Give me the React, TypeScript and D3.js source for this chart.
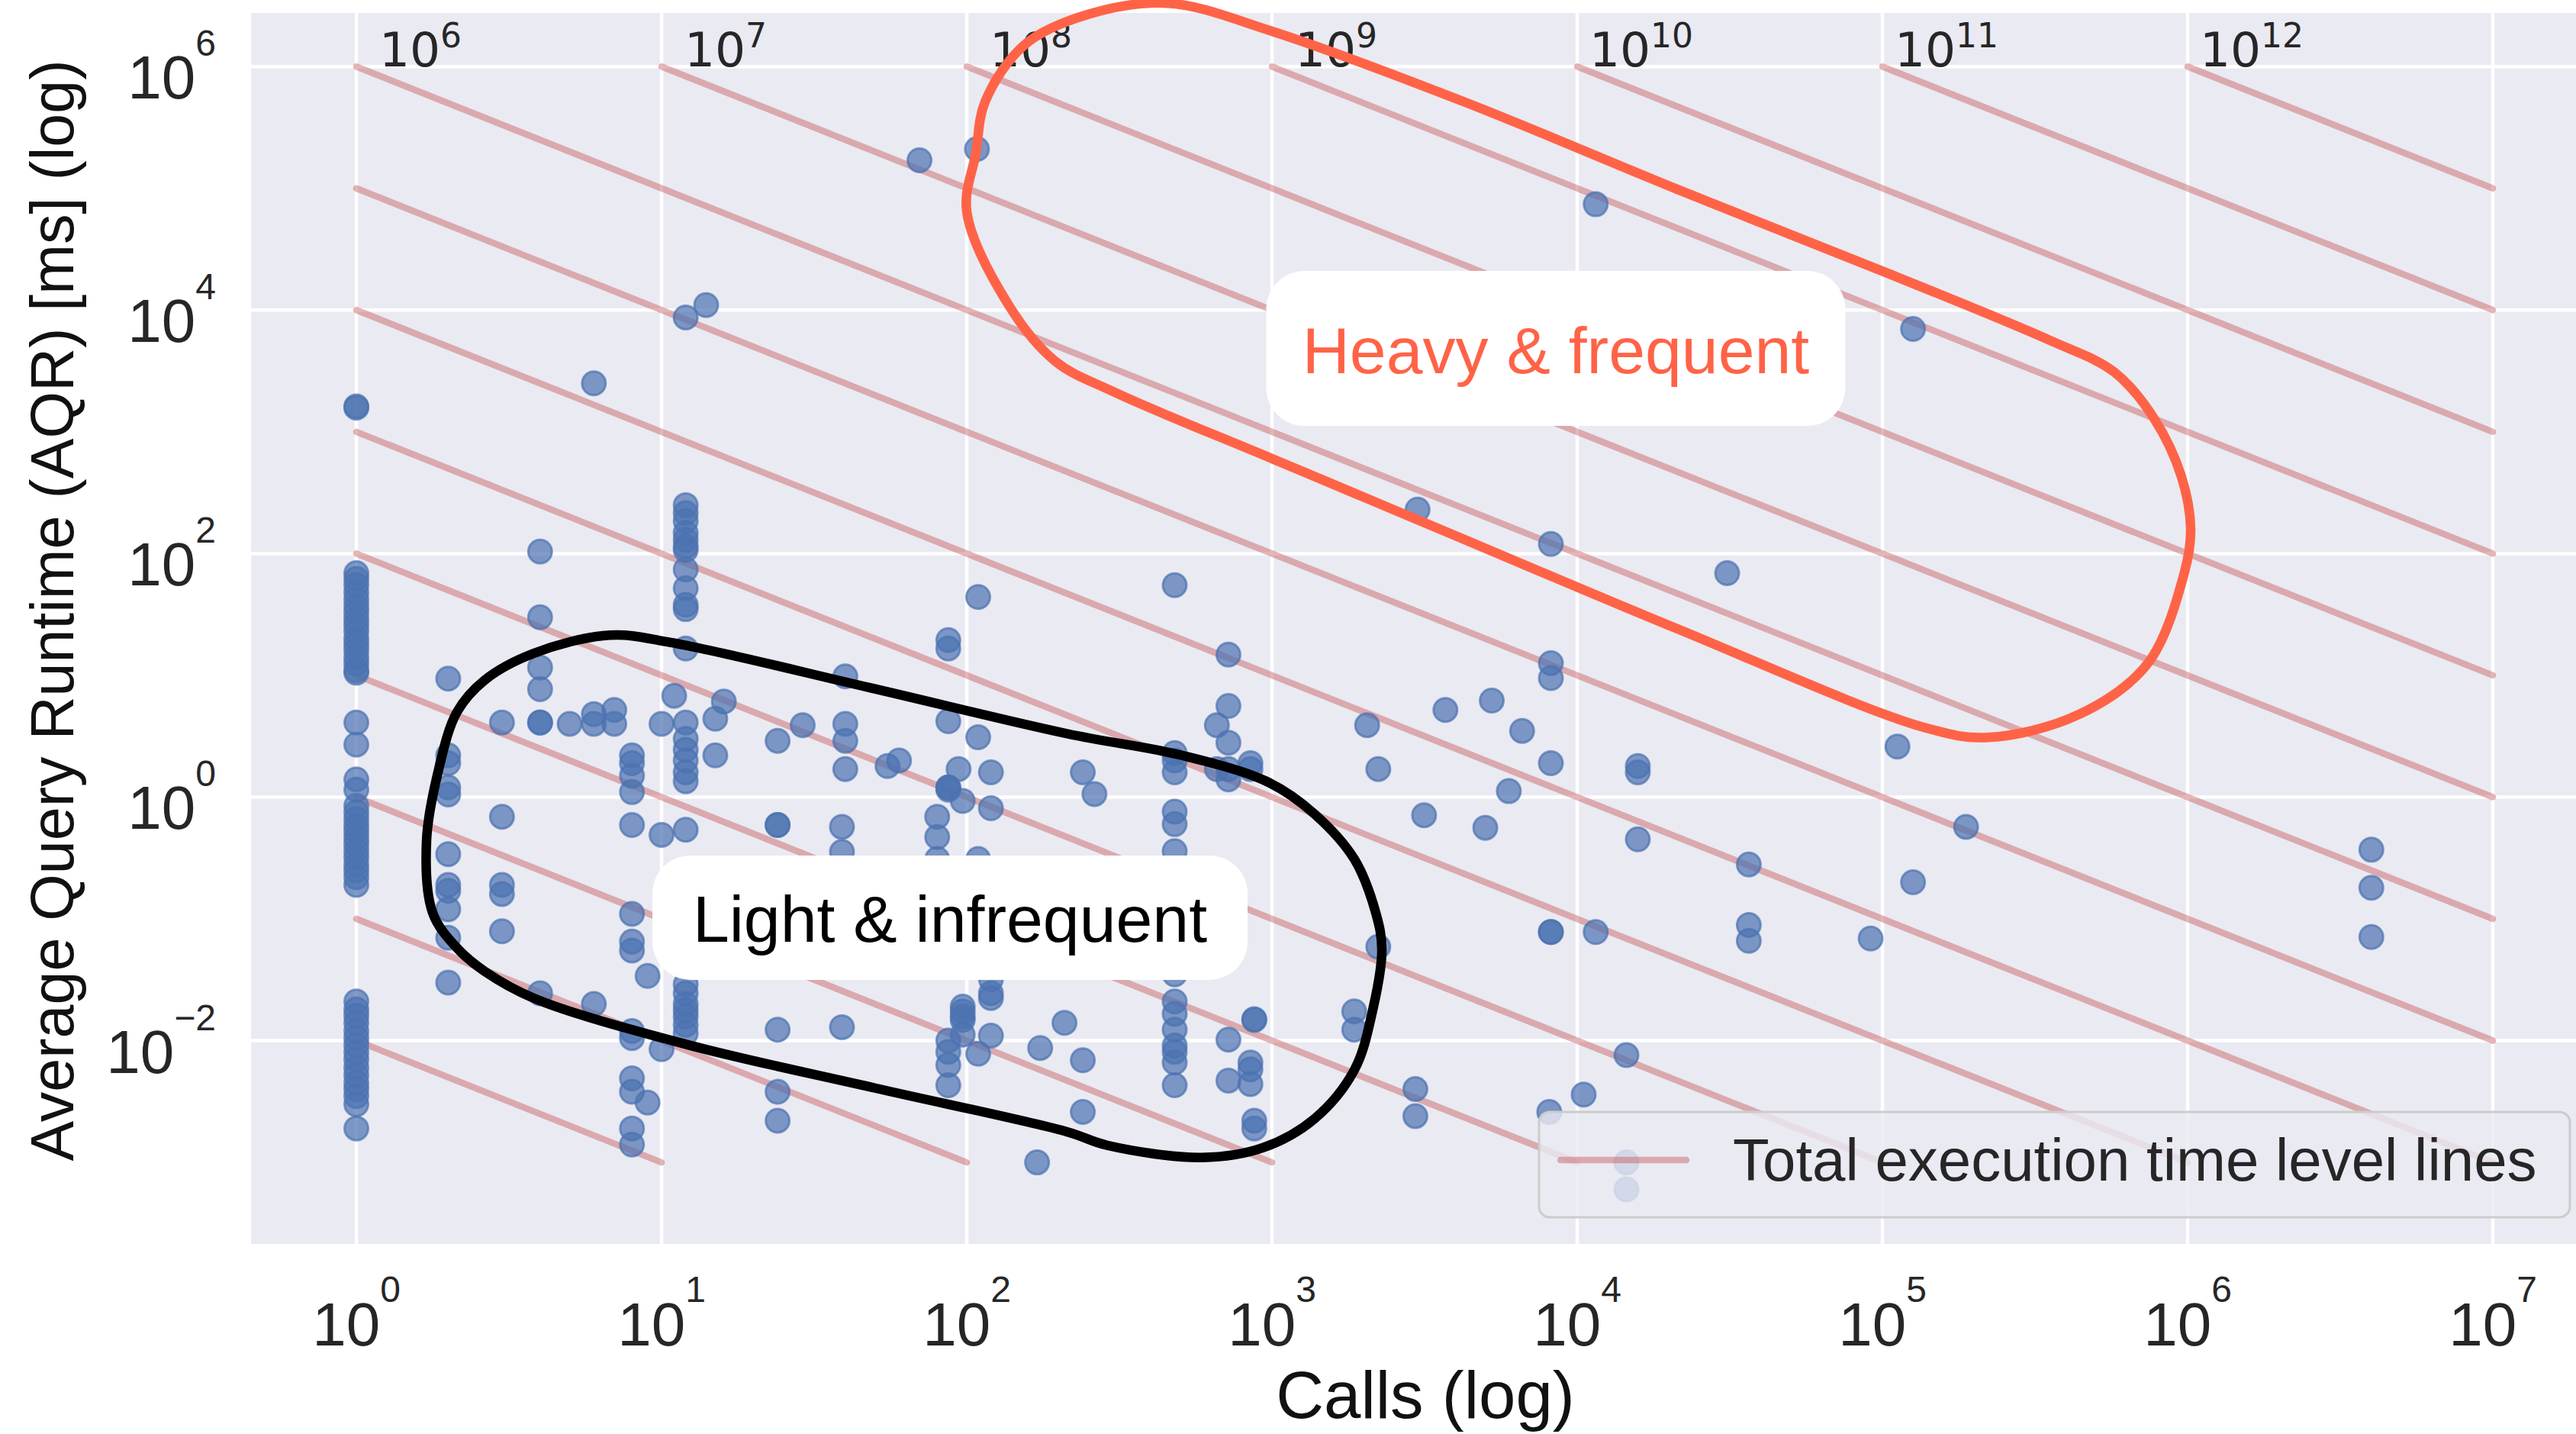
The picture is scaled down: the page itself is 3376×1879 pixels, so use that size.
import React from 'react';
import * as d3 from 'd3';

// query groups: number of calls, and the average runtimes (ms) seen at that call count
const callCounts = [
  1, 2, 3, 4, 5, 6, 7, 8, 9, 10, 11, 12, 14, 15, 16, 24, 29, 39, 40, 55, 60, 70, 80, 87, 94, 97,
  108, 109, 120, 170, 174, 209, 240, 262, 480, 660, 720, 850, 875, 1860, 2050, 2230, 2950, 3000,
  3150, 3700, 5000, 5250, 5970, 6600, 8100, 8200, 10500, 11500, 14500, 15800, 31000, 36500,
  91500, 112000, 126000, 188000, 4000000,
];

const aqrByCalls = [
  [1580, 1620, 69, 62, 55, 48, 42, 37, 33, 29, 26, 23, 20, 18, 16, 14, 12.5, 11, 10.5, 4.1, 2.7, 1.4, 1.15,
    0.85, 0.75, 0.66, 0.58, 0.52, 0.46, 0.41, 0.36, 0.32, 0.28, 0.25, 0.22, 0.19,
    0.021, 0.018, 0.016, 0.014, 0.012, 0.0105, 0.0092, 0.008, 0.007, 0.006, 0.0052, 0.0045, 0.004, 0.0035, 0.003, 0.0019],
  [9.4, 2.2, 1.9, 1.2, 1.05, 0.34, 0.19, 0.17, 0.12, 0.07, 0.03],
  [4.1, 0.69, 0.19, 0.16, 0.079],
  [104, 30, 11.6, 7.7, 4.1, 4.1, 0.0245],
  [4.0],
  [2500, 4.8, 4.0, 0.02],
  [5.2, 4.0],
  [2.2, 1.9, 1.5, 1.1, 0.59, 0.11, 0.065, 0.055, 0.012, 0.0105, 0.0049, 0.0038, 0.0019, 0.0014],
  [0.034, 0.0031],
  [4.0, 0.49, 0.0085],
  [6.8],
  [8700, 250, 215, 185, 148, 130, 115, 107, 74, 52, 38, 35, 16.6, 4.1, 3.0, 2.45, 2.0, 1.6, 1.35, 0.54,
    0.029, 0.0245, 0.02, 0.0178, 0.0158, 0.0135, 0.0115],
  [11000],
  [4.4, 2.2],
  [6.1],
  [2.9, 0.59, 0.59, 0.0123, 0.0038, 0.0022],
  [3.9],
  [0.57, 0.355, 0.0129],
  [9.8, 4.0, 2.9, 1.7],
  [1.8],
  [2.0],
  [170000],
  [0.69, 0.47, 0.31],
  [19.5, 16.6, 4.2, 1.2, 1.2, 1.15, 0.01, 0.0081, 0.0063, 0.0043],
  [1.7],
  [0.93, 0.019, 0.0174, 0.0158, 0.0148, 0.0112],
  [210000],
  [44, 3.1, 0.31, 0.0078],
  [1.6, 0.81, 0.032, 0.0245, 0.0224, 0.011],
  [0.001],
  [0.0087],
  [0.014],
  [1.6, 0.0069, 0.0026],
  [1.06],
  [55, 2.3, 2.0, 1.6, 0.76, 0.6, 0.36, 0.035, 0.021, 0.0166, 0.0123, 0.0091, 0.0081, 0.0066, 0.0043],
  [3.9, 1.7],
  [14.8, 5.6, 2.8, 1.7, 1.4, 0.0102, 0.0047],
  [1.9, 1.7, 0.0066, 0.0058, 0.0044],
  [0.015, 0.0148, 0.0022, 0.0019],
  [0.0174, 0.0123],
  [3.9],
  [1.7, 0.059],
  [0.004, 0.0024],
  [230],
  [0.71],
  [5.2],
  [0.56],
  [6.2],
  [1.12],
  [3.5],
  [0.0026],
  [120, 12.6, 9.5, 1.9, 0.078, 0.078],
  [0.0036],
  [74000, 0.078],
  [0.0076, 0.001, 0.0006],
  [1.8, 1.6, 0.45],
  [69],
  [0.28, 0.089, 0.066],
  [0.069],
  [2.6],
  [7000, 0.2],
  [0.57],
  [0.37, 0.18, 0.071],
];

const xTickExponents = [0, 1, 2, 3, 4, 5, 6, 7];
const yTickExponents = [-2, 0, 2, 4, 6];
// total execution time levels (calls * AQR = 10^k)
const levelExponents = [-2, -1, 0, 1, 2, 3, 4, 5, 6, 7, 8, 9, 10, 11, 12];
const levelLabelExponents = [6, 7, 8, 9, 10, 11, 12];
const callsRange = [1, 1e7];
const aqrRange = [1e-3, 1e6];

// hand drawn regions, as [log10 calls, log10 AQR]
const heavyOutline: [number, number][] = [
  [2.66, 6.52], [3.0, 6.29], [3.63, 5.71], [4.33, 4.99], [5.01, 4.31], [5.55, 3.75], [5.76, 3.49],
  [5.89, 3.11], [5.98, 2.63], [6.01, 2.2], [5.99, 1.85], [5.87, 1.1], [5.645, 0.68], [5.345, 0.49],
  [5.14, 0.57], [4.33, 1.38], [3.57, 2.18], [3.0, 2.78], [2.48, 3.33], [2.29, 3.58], [2.14, 4.03],
  [2.0, 4.81], [2.03, 5.29], [2.06, 5.71], [2.19, 6.18], [2.4, 6.43],
];
const lightOutline: [number, number][] = [
  [0.83, 1.33], [1.03, 1.27], [1.68, 0.9], [2.33, 0.52], [2.71, 0.34], [2.99, 0.12], [3.14, -0.14],
  [3.27, -0.51], [3.34, -0.95], [3.36, -1.25], [3.33, -1.75], [3.27, -2.24], [3.14, -2.64],
  [2.97, -2.88], [2.77, -2.96], [2.46, -2.86], [2.33, -2.75], [1.7, -2.39], [1.08, -2.03],
  [0.58, -1.65], [0.42, -1.43], [0.33, -1.24], [0.25, -0.95], [0.23, -0.36], [0.27, 0.23],
  [0.33, 0.7], [0.42, 0.96], [0.58, 1.18],
];

const annotations = [
  { text: 'Heavy & frequent', calls: 10 ** 3.93, aqr: 10 ** 3.685, color: '#FF6347', w: 759, h: 203 },
  { text: 'Light & infrequent', calls: 10 ** 1.945, aqr: 10 ** -0.99, color: '#000000', w: 780, h: 163 },
];

const W = 3376;
const H = 1879;
const plot = { left: 329, top: 17, width: 3080, height: 1613 };
const sans = '"Liberation Sans", Arial, Helvetica, sans-serif';
const dejavu = '"DejaVu Sans", sans-serif';
const levelColor = '#C44E52';
const dotColor = '#4C72B0';

const sup = (e: number) => (e < 0 ? '\u2212' + Math.abs(e) : String(e));

export default function App() {
  const x = d3.scaleLog()
    .domain([10 ** -0.345, 10 ** 7.355])
    .range([plot.left, plot.left + plot.width]);
  const y = d3.scaleLog()
    .domain([10 ** -3.67, 10 ** 6.44])
    .range([plot.top + plot.height, plot.top]);

  const points = callCounts.flatMap((c, i) => aqrByCalls[i].map(v => [c, v]));

  const levels = levelExponents.map(k => {
    const t = 10 ** k;
    const c0 = Math.max(callsRange[0], t / aqrRange[1]);
    const c1 = Math.min(callsRange[1], t / aqrRange[0]);
    return { k, c0, c1, t };
  });

  const outline = d3.line<[number, number]>()
    .x(d => x(10 ** d[0]))
    .y(d => y(10 ** d[1]))
    .curve(d3.curveCatmullRomClosed.alpha(0.5));

  const legend = { x: 2017, y: 1457, w: 1351, h: 138 };

  return (
    <div style={{ position: 'absolute', left: 0, top: 0 }}>
      <svg width={W} height={H} style={{ display: 'block', background: '#fff' }}>
        <defs>
          <clipPath id="axes-clip">
            <rect x={plot.left} y={plot.top} width={plot.width} height={plot.height} />
          </clipPath>
        </defs>

        <rect x={plot.left} y={plot.top} width={plot.width} height={plot.height} fill="#EAEAF2" />

        <g stroke="#fff" strokeWidth={4.5}>
          {xTickExponents.map(e => (
            <line key={'gx' + e} x1={x(10 ** e)} x2={x(10 ** e)} y1={plot.top} y2={plot.top + plot.height} />
          ))}
          {yTickExponents.map(e => (
            <line key={'gy' + e} x1={plot.left} x2={plot.left + plot.width} y1={y(10 ** e)} y2={y(10 ** e)} />
          ))}
        </g>

        <g clipPath="url(#axes-clip)">
          {levels.map(l => (
            <line key={'lv' + l.k}
              x1={x(l.c0)} y1={y(l.t / l.c0)} x2={x(l.c1)} y2={y(l.t / l.c1)}
              stroke={levelColor} strokeOpacity={0.42} strokeWidth={8.5} strokeLinecap="round" />
          ))}
          {points.map((p, i) => (
            <circle key={'p' + i} cx={x(p[0])} cy={y(p[1])} r={15.5}
              fill={dotColor} fillOpacity={0.7} stroke={dotColor} strokeOpacity={0.7} strokeWidth={3} />
          ))}
        </g>

        {levelLabelExponents.map(k => {
          const start = Math.max(callsRange[0], 10 ** k / aqrRange[1]);
          return (
            <text key={'ll' + k} x={x(start * 10 ** 0.21)} y={y(aqrRange[1])} textAnchor="middle"
              fontFamily={dejavu} fontSize={63} fill="#262626">
              <tspan>10</tspan>
              <tspan dy={-25} fontSize={44}>{k}</tspan>
            </text>
          );
        })}

        <path d={outline(heavyOutline) || ''} fill="none" stroke="#FF6347" strokeWidth={12.5} />
        <path d={outline(lightOutline) || ''} fill="none" stroke="#000" strokeWidth={12.5} />

        {annotations.map(a => {
          const cx = x(a.calls);
          const cy = y(a.aqr);
          return (
            <g key={a.text}>
              <rect x={cx - a.w / 2} y={cy - a.h / 2} width={a.w} height={a.h} rx={50} ry={50} fill="#fff" />
              <text x={cx} y={cy + 32} textAnchor="middle" fontFamily={sans} fontSize={86} fill={a.color}>
                {a.text}
              </text>
            </g>
          );
        })}

        {/* legend */}
        <rect x={legend.x} y={legend.y} width={legend.w} height={legend.h} rx={14} ry={14}
          fill="#EAEAF2" fillOpacity={0.8} stroke="#CCCCCC" strokeWidth={3} />
        <line x1={legend.x + 28} x2={legend.x + 193} y1={legend.y + 63} y2={legend.y + 63}
          stroke={levelColor} strokeOpacity={0.42} strokeWidth={8.5} strokeLinecap="round" />
        <text x={legend.x + 254} y={legend.y + 90} fontFamily={sans} fontSize={78} fill="#262626">
          Total execution time level lines
        </text>

        {/* tick labels */}
        {xTickExponents.map(e => (
          <text key={'tx' + e} x={x(10 ** e)} y={1763} textAnchor="middle" fontFamily={sans} fontSize={80} fill="#262626">
            <tspan>10</tspan>
            <tspan dy={-57} fontSize={48}>{sup(e)}</tspan>
          </text>
        ))}
        {yTickExponents.map(e => (
          <text key={'ty' + e} x={283} y={y(10 ** e) + 42} textAnchor="end" fontFamily={sans} fontSize={80} fill="#262626">
            <tspan>10</tspan>
            <tspan dy={-56} fontSize={48}>{sup(e)}</tspan>
          </text>
        ))}

        <text x={1868} y={1858} textAnchor="middle" fontFamily={sans} fontSize={87} fill="#111">
          Calls (log)
        </text>
        <text transform="translate(96,800) rotate(-90)" textAnchor="middle" fontFamily={sans} fontSize={79} fill="#111">
          Average Query Runtime (AQR) [ms] (log)
        </text>
      </svg>
    </div>
  );
}
